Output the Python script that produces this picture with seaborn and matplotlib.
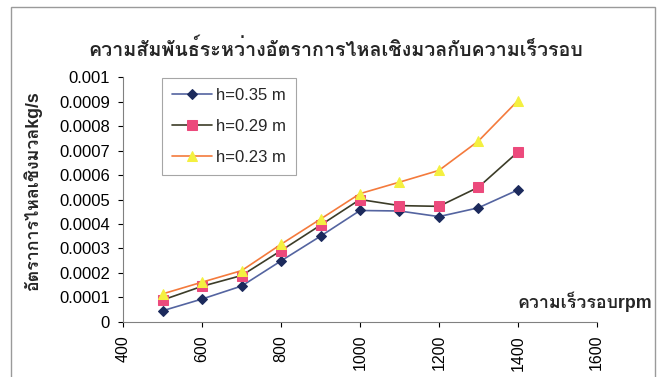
import numpy as np
import pandas as pd
import seaborn as sns
import matplotlib
matplotlib.use("Agg")
import matplotlib.pyplot as plt
from matplotlib import font_manager, ft2font
from matplotlib.patches import Rectangle
from matplotlib.ticker import FixedLocator, FixedFormatter

# Rotational speed (rpm) and mass flow rate (kg/s) for three heads
speed_rpm = [500, 600, 700, 800, 900, 1000, 1100, 1200, 1300, 1400]
flow_h035 = [0.000045, 0.000093, 0.000146, 0.000249, 0.000350, 0.000455,
             0.000453, 0.000430, 0.000466, 0.000539]
flow_h029 = [0.000089, 0.000145, 0.000189, 0.000291, 0.000395, 0.000500,
             0.000475, 0.000472, 0.000550, 0.000694]
flow_h023 = [0.000114, 0.000162, 0.000209, 0.000317, 0.000420, 0.000524,
             0.000571, 0.000619, 0.000739, 0.000904]
series_names = ["h=0.35 m", "h=0.29 m", "h=0.23 m"]

x_ticks = [400, 600, 800, 1000, 1200, 1400, 1600]
y_ticks = [0, 0.0001, 0.0002, 0.0003, 0.0004, 0.0005, 0.0006, 0.0007,
           0.0008, 0.0009, 0.001]
y_tick_labels = ["0", "0.0001", "0.0002", "0.0003", "0.0004", "0.0005",
                 "0.0006", "0.0007", "0.0008", "0.0009", "0.001"]

title_text = "ความสัมพันธ์ระหว่างอัตราการไหลเชิงมวลกับความเร็วรอบ"
ylabel_text = "อัตราการไหลเชิงมวลkg/s"
xlabel_text = "ความเร็วรอบrpm"

sns.set_theme(style="white")


def thai_font():
    """Pick an installed font that has Thai glyphs."""
    seen = set()
    for f in font_manager.fontManager.ttflist:
        if f.fname in seen:
            continue
        seen.add(f.fname)
        try:
            cmap = ft2font.FT2Font(f.fname).get_charmap()
        except Exception:
            continue
        if 0x0E01 in cmap and 0x0E27 in cmap:
            return f.name
    return None


thai = thai_font()
families = ["Liberation Sans"] + ([thai] if thai else []) + ["DejaVu Sans"]
plt.rcParams["font.family"] = families

df = pd.DataFrame({
    "speed": speed_rpm * 3,
    "flow": flow_h035 + flow_h029 + flow_h023,
    "series": [series_names[0]] * len(speed_rpm)
              + [series_names[1]] * len(speed_rpm)
              + [series_names[2]] * len(speed_rpm),
})

W, H = 666, 377
fig = plt.figure(figsize=(W / 100, H / 100), dpi=100)
x0, x1, y_top, y_bot = 123.3, 596.7, 77.3, 321.7
ax = fig.add_axes([x0 / W, 1 - y_bot / H, (x1 - x0) / W, (y_bot - y_top) / H])

line_colors = ["#5464a0", "#3c3c28", "#f47a3c"]
marker_face = ["#1c2a5c", "#ec4a7c", "#f4f040"]
markers = ["D", "s", "^"]
msizes = [5.5, 6.5, 6.5]

for i, name in enumerate(series_names):
    sub = df[df["series"] == name]
    sns.lineplot(data=sub, x="speed", y="flow", ax=ax, color=line_colors[i],
                 marker=markers[i], markersize=msizes[i],
                 markerfacecolor=marker_face[i], markeredgecolor=marker_face[i],
                 linewidth=1.2, label=name, estimator=None)

ax.set_xlim(400, 1600)
ax.set_ylim(0, 0.001)
ax.xaxis.set_major_locator(FixedLocator(x_ticks))
ax.yaxis.set_major_locator(FixedLocator(y_ticks))
ax.yaxis.set_major_formatter(FixedFormatter(y_tick_labels))
ax.set_xticklabels([str(v) for v in x_ticks], rotation=90)
ax.tick_params(axis="both", colors="black", length=3.5, width=0.8,
               direction="out")
ax.tick_params(axis="x", labelsize=11.5, pad=6)
ax.tick_params(axis="y", labelsize=12, pad=6)
ax.xaxis.set_ticks_position("bottom")
ax.yaxis.set_ticks_position("left")
for side in ["top", "right"]:
    ax.spines[side].set_visible(False)
for side in ["left", "bottom"]:
    ax.spines[side].set_color("#808080")
    ax.spines[side].set_linewidth(0.8)
ax.set_xlabel("")
ax.set_ylabel("")

fig.text(336 / W, 1 - 49 / H, title_text, ha="center", va="center",
         fontsize=14.2, fontweight="bold")
fig.text(33 / W, 1 - 191 / H, ylabel_text, ha="center", va="center",
         rotation=90, fontsize=12.8, fontweight="bold")
fig.text(652 / W, 1 - 301.5 / H, xlabel_text, ha="right", va="center",
         fontsize=12.8, fontweight="bold")

leg = ax.legend(loc="upper left", bbox_to_anchor=(162 / W, 1 - 78 / H),
                bbox_transform=fig.transFigure, frameon=True, fancybox=False,
                fontsize=12, handlelength=2.4, borderpad=0.6,
                labelspacing=0.95, handletextpad=0.25, borderaxespad=0)
leg.get_frame().set_edgecolor("#909090")
leg.get_frame().set_linewidth(0.8)

fig.patches.append(Rectangle((11 / W, -0.05), (655 - 11) / W, 1 - 7 / H + 0.05,
                             transform=fig.transFigure, fill=False,
                             edgecolor="#9a9a9a", linewidth=1.0))

fig.savefig("out.png", dpi=100)
